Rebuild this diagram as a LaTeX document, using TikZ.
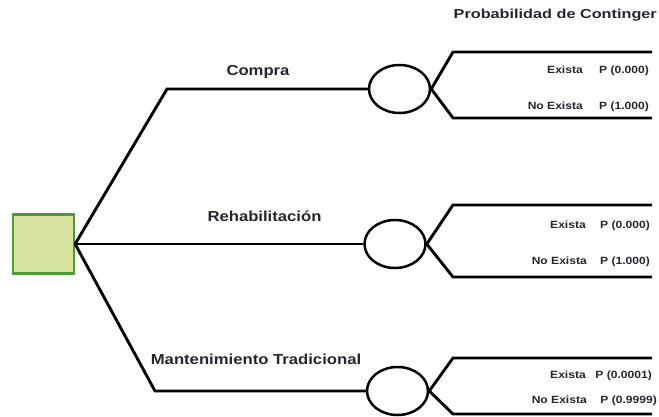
\documentclass[tikz,border=0pt]{standalone}
\usepackage{fontspec}
\setmainfont{Liberation Sans}
\newfontfamily\labfont[FakeStretch=1.15]{Liberation Sans}
\newfontfamily\titfont[FakeStretch=1.25]{Liberation Sans}
\usetikzlibrary{shapes.geometric}
\definecolor{decgreen}{HTML}{4E9A3A}
\definecolor{decfill}{HTML}{D6E4A0}
\definecolor{txt}{HTML}{26262F}
\begin{document}
\begin{tikzpicture}[x=1pt,y=-1pt,
  branch/.style={line width=2.9pt, line join=miter, line cap=butt},
  chance/.style={ellipse, draw, line width=2.5pt, minimum width=61pt, minimum height=48pt, inner sep=0pt},
  decision/.style={rectangle, draw=decgreen, fill=decfill, line width=2.2pt, minimum width=61pt, minimum height=59pt, inner sep=0pt},
  opt/.style={font=\labfont\bfseries\fontsize{14.5}{17}\selectfont, text=txt, inner sep=0pt, anchor=base},
  small/.style={font=\labfont\bfseries\fontsize{10.5}{12}\selectfont, text=txt, inner sep=0pt, anchor=base east},
  title/.style={font=\titfont\bfseries\fontsize{13}{15}\selectfont, text=txt, inner sep=0pt, anchor=base east}
]
\useasboundingbox (0,0) rectangle (659,416);
\clip (0,0) rectangle (659,416);

% decision node
\node[decision] (root) at (43.5,244) {};

% chance nodes
\node[chance] (c1) at (399.5,89) {};
\node[chance] (c2) at (395,244) {};
\node[chance] (c3) at (397.5,391) {};

% corners
\coordinate (k1) at (167,89);
\coordinate (k3) at (155,391);

% main branches
\draw[branch] (root.east) -- (k1) -- (c1.west);
\draw[branch] (root.east) -- (c2.west);
\draw[branch] (root.east) -- (k3) -- (c3.west);

% outcome branches
\coordinate (u1a) at (453,52);  \coordinate (u1b) at (652,52);
\coordinate (l1a) at (453,118); \coordinate (l1b) at (652,118);
\coordinate (u2a) at (453,205); \coordinate (u2b) at (652,205);
\coordinate (l2a) at (453,277); \coordinate (l2b) at (652,277);
\coordinate (u3a) at (453,358); \coordinate (u3b) at (652,358);
\coordinate (l3a) at (453,414); \coordinate (l3b) at (652,414);

\draw[branch] (c1.east) -- (u1a) -- (u1b);
\draw[branch] (c1.east) -- (l1a) -- (l1b);
\draw[branch] (c2.east) -- (u2a) -- (u2b);
\draw[branch] (c2.east) -- (l2a) -- (l2b);
\draw[branch] (c3.east) -- (u3a) -- (u3b);
\draw[branch] (c3.east) -- (l3a) -- (l3b);

% labels
\node[title] (tit) at (657,18) {Probabilidad de Continger};
\node[opt] (lc) at (258,75) {Compra};
\node[opt] (lr) at (264.5,221) {Rehabilitación};
\node[opt] (lm) at (256,364) {Mantenimiento Tradicional};

\node[small] (e1) at (583,73) {Exista};
\node[small] (p1) at (649,73) {P (0.000)};
\node[small] (n1) at (583,109) {No Exista};
\node[small] (q1) at (649,109) {P (1.000)};

\node[small] (e2) at (586,228) {Exista};
\node[small] (p2) at (650,228) {P (0.000)};
\node[small] (n2) at (587,264) {No Exista};
\node[small] (q2) at (650,264) {P (1.000)};

\node[small] (e3) at (586,378) {Exista};
\node[small] (p3) at (652,378) {P (0.0001)};
\node[small] (n3) at (587,403) {No Exista};
\node[small] (q3) at (657,403) {P (0.9999)};
\end{tikzpicture}
\end{document}
